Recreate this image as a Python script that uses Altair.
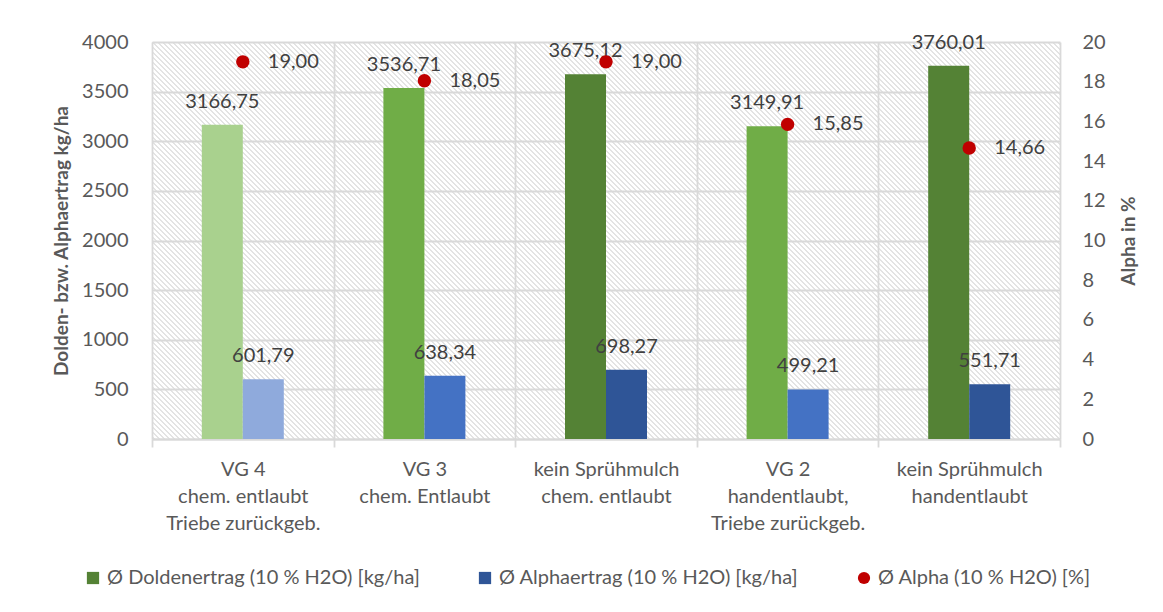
import altair as alt
import pandas as pd

# ---- data ----
categories = [
    "VG 4|chem. entlaubt|Triebe zurückgeb.",
    "VG 3|chem. Entlaubt",
    "kein Sprühmulch|chem. entlaubt",
    "VG 2|handentlaubt,|Triebe zurückgeb.",
    "kein Sprühmulch|handentlaubt",
]
doldenertrag = [3166.75, 3536.71, 3675.12, 3149.91, 3760.01]
alphaertrag = [601.79, 638.34, 698.27, 499.21, 551.71]
alpha_pct = [19.00, 18.05, 19.00, 15.85, 14.66]

series_names = [
    "Ø Doldenertrag (10 % H2O)  [kg/ha]",
    "Ø  Alphaertrag (10 % H2O) [kg/ha]",
    "Ø  Alpha (10 % H2O) [%]",
]
y_left_ticks = [0, 500, 1000, 1500, 2000, 2500, 3000, 3500, 4000]
y_right_ticks = [0, 2, 4, 6, 8, 10, 12, 14, 16, 18, 20]

# ---- styles ----
dolden_colors = ["#A9D18E", "#70AD47", "#548235", "#70AD47", "#548235"]
alpha_colors = ["#8FAADC", "#4472C4", "#2F5597", "#4472C4", "#2F5597"]
legend_colors = ["#548235", "#2F5597", "#C00000"]
RED = "#C00000"
GRID = "#d9d9d9"
LABEL = "#595959"
VALTXT = "#404040"
FONT = "Lato"

W, H = 908, 397
BAR_W = 41

# ---- tables ----
rows = []
for i, c in enumerate(categories):
    rows.append({"cat": c, "series": "D", "key": f"D{i}", "value": doldenertrag[i]})
    rows.append({"cat": c, "series": "A", "key": f"A{i}", "value": alphaertrag[i]})
bars_df = pd.DataFrame(rows)
fill_domain = [f"D{i}" for i in range(len(categories))] + [f"A{i}" for i in range(len(categories))]
fill_range = dolden_colors + alpha_colors

dots_df = pd.DataFrame({"cat": categories, "alpha": alpha_pct})
legend_df = pd.DataFrame({"name": series_names})

# ---- hatch background (diagonal stripes via a linear gradient) ----
r = H / W
s = (1 + r) / (1 + r * r)
span = W + H
period = 5.0
stops = []
d = -H
while d < W:
    for off, col in ((1.5, "#ffffff"), (2.5, "#c8c8c8"), (3.5, "#ffffff")):
        o = (d + off + H) / span
        if 0 <= o <= 1:
            stops.append(f"{{offset: {o:.5f}, color: '{col}'}}")
    d += period
hatch_expr = (
    "{gradient: 'linear', x1: 0, y1: 1, x2: %.5f, y2: %.5f, stops: [%s]}"
    % (s, 1 - s * r, ", ".join(stops))
)

label_expr = "replace(format(datum.value, '.2f'), '.', ',')"

x_enc = alt.X(
    "cat:N",
    sort=categories,
    scale=alt.Scale(paddingInner=0, paddingOuter=0),
    axis=alt.Axis(
        title=None,
        labelExpr="split(datum.label, '|')",
        labelAngle=0,
        labelFontSize=20,
        labelColor=LABEL,
        labelLineHeight=27,
        labelPadding=12,
        grid=True,
        gridColor=GRID,
        gridWidth=1.8,
        tickBand="extent",
        tickColor=GRID,
        tickWidth=1.8,
        tickSize=8,
        domainColor=GRID,
        domainWidth=1.8,
    ),
)
half = W / len(categories) / 2
xoff_enc = alt.XOffset(
    "series:N",
    sort=["D", "A"],
    scale=alt.Scale(paddingInner=0, paddingOuter=0, range=[half - BAR_W, half + BAR_W]),
)
y_left = alt.Y(
    "value:Q",
    scale=alt.Scale(domain=[0, 4000], nice=False),
    axis=alt.Axis(
        title="Dolden- bzw. Alphaertrag kg/ha",
        titleFontSize=19,
        titleFontWeight="bold",
        titleColor=LABEL,
        titlePadding=10,
        values=y_left_ticks,
        format="d",
        labelFontSize=20,
        labelColor=LABEL,
        labelPadding=24,
        labelOverlap=False,
        ticks=False,
        domain=False,
        grid=True,
        gridColor=GRID,
        gridWidth=1.8,
    ),
)

bars = alt.Chart(bars_df).mark_bar().encode(
    x=x_enc,
    xOffset=xoff_enc,
    y=y_left,
    fill=alt.Fill("key:N", scale=alt.Scale(domain=fill_domain, range=fill_range), legend=None),
)
bar_labels = (
    alt.Chart(bars_df)
    .transform_calculate(lbl=label_expr)
    .mark_text(fontSize=20, color=VALTXT, dy=-17, baseline="alphabetic")
    .encode(x=x_enc, xOffset=xoff_enc, y=y_left, text="lbl:N")
)

y_right = alt.Y(
    "alpha:Q",
    scale=alt.Scale(domain=[0, 20], nice=False),
    axis=alt.Axis(
        orient="right",
        title="Alpha in %",
        titleAngle=270,
        titleBaseline="top",
        titleFontSize=19,
        titleFontWeight="bold",
        titleColor=LABEL,
        titlePadding=14,
        values=y_right_ticks,
        format="d",
        labelFontSize=20,
        labelColor=LABEL,
        labelPadding=22,
        labelOverlap=False,
        ticks=False,
        domain=False,
        grid=False,
    ),
)
dots = alt.Chart(dots_df).mark_circle(size=180, opacity=1, color=RED).encode(
    x=x_enc, y=y_right
)
dot_labels = (
    alt.Chart(dots_df)
    .transform_calculate(lbl="replace(format(datum.alpha, '.2f'), '.', ',')")
    .mark_text(fontSize=20, color=VALTXT, dx=25, align="left", baseline="middle")
    .encode(x=x_enc, y=y_right, text="lbl:N")
)

legend_layer = alt.Chart(legend_df).mark_point(filled=True, size=0, opacity=1).encode(
    color=alt.Color(
        "name:N",
        scale=alt.Scale(domain=series_names, range=legend_colors),
        legend=alt.Legend(
            title=None,
            orient="none",
            legendX=-69,
            legendY=526,
            direction="horizontal",
            labelFontSize=20,
            labelColor=LABEL,
            labelLimit=500,
            symbolSize=150,
            symbolOpacity=1,
            symbolStrokeWidth=0,
            labelOffset=4,
            columnPadding=50,
        ),
    ),
    shape=alt.Shape(
        "name:N",
        scale=alt.Scale(domain=series_names, range=["square", "square", "circle"]),
    ),
)

left = alt.layer(bars, bar_labels)
right = alt.layer(dots, dot_labels)

chart = (
    alt.layer(left, right, legend_layer)
    .resolve_scale(y="independent")
    .properties(
        width=W,
        height=H,
        autosize=alt.AutoSizeParams(type="none"),
        padding={"left": 144, "top": 34, "right": 95, "bottom": 165},
        view=alt.ViewBackground(fill=alt.ExprRef(expr=hatch_expr), stroke=None),
        background="white",
    )
    .configure(font=FONT)
)

chart.save("out.html", embed_options={"renderer": "svg", "actions": False})
